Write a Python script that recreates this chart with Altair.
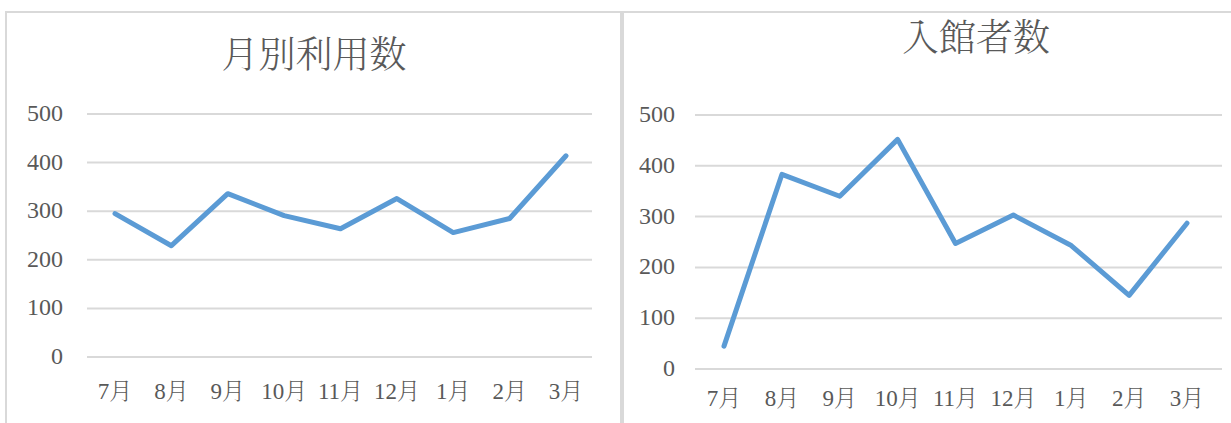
import altair as alt
import pandas as pd

# Months shown on both charts (July to March)
months = ["7月", "8月", "9月", "10月", "11月", "12月", "1月", "2月", "3月"]

# Monthly usage counts
usage = [295, 229, 336, 291, 264, 326, 256, 285, 414]

# Monthly visitor counts
visitors = [45, 383, 340, 452, 247, 303, 243, 145, 287]

# Y-axis tick values
ticks = [0, 100, 200, 300, 400, 500]

titles = ["月別利用数", "入館者数"]

LINE = "#5b9bd5"
GRID = "#d9d9d9"
TEXT = "#595959"
NUM_FONT = "Liberation Serif, Noto Serif CJK JP, Noto Sans CJK JP"
CJK_FONT = "Noto Serif CJK JP, Noto Sans CJK JP"

tick_df = pd.DataFrame({"tick": ticks})
month_df = pd.DataFrame({"month": months})


def panel(values, xrange, yrange, grid_x, label_x, month_y):
    df = pd.DataFrame({"month": months, "value": values})
    xs = alt.Scale(type="point", domain=months, range=xrange, padding=0)
    ys = alt.Scale(domain=[0, 500], range=yrange, nice=False, zero=True)

    grid = alt.Chart(tick_df).mark_rule(color=GRID, strokeWidth=2).encode(
        y=alt.Y("tick:Q", scale=ys, axis=None),
        x=alt.value(grid_x[0]),
        x2=alt.value(grid_x[1]),
    )
    ylabels = alt.Chart(tick_df).mark_text(
        align="right", baseline="middle", font=NUM_FONT, fontSize=24, color=TEXT
    ).encode(
        y=alt.Y("tick:Q", scale=ys, axis=None),
        x=alt.value(label_x),
        text=alt.Text("tick:Q"),
    )
    xlabels = alt.Chart(month_df).mark_text(
        align="center", baseline="middle", font=NUM_FONT, fontSize=23,
        fontWeight=300, color=TEXT
    ).encode(
        x=alt.X("month:O", scale=xs, axis=None),
        y=alt.value(month_y),
        text="month:N",
    )
    line = alt.Chart(df).mark_line(
        color=LINE, strokeWidth=5, strokeJoin="round", strokeCap="round"
    ).encode(
        x=alt.X("month:O", scale=xs, axis=None, sort=months),
        y=alt.Y("value:Q", scale=ys, axis=None),
    )
    return alt.layer(grid, ylabels, xlabels, line)


left = panel(usage, [115, 566], [357, 114], (87, 592), 63, 392)
right = panel(visitors, [724, 1187], [369, 115], (695, 1222), 675, 399)

# Panel frames
frame_df = pd.DataFrame({"id": [0]})
frame_left = alt.Chart(frame_df).mark_rect(
    fillOpacity=0, stroke=GRID, strokeWidth=2
).encode(x=alt.value(6), x2=alt.value(621), y=alt.value(12), y2=alt.value(450))
frame_right = alt.Chart(frame_df).mark_rect(
    fillOpacity=0, stroke=GRID, strokeWidth=2
).encode(x=alt.value(623), x2=alt.value(1260), y=alt.value(12), y2=alt.value(450))

# Chart titles
title_df = pd.DataFrame({"title": titles})
title_left = alt.Chart(title_df.iloc[[0]]).mark_text(
    align="center", baseline="middle", font=CJK_FONT, fontSize=37,
    fontWeight=300, color=TEXT
).encode(text="title:N", x=alt.value(314), y=alt.value(57))
title_right = alt.Chart(title_df.iloc[[1]]).mark_text(
    align="center", baseline="middle", font=CJK_FONT, fontSize=37,
    fontWeight=300, color=TEXT
).encode(text="title:N", x=alt.value(976), y=alt.value(40))

chart = (
    alt.layer(frame_left, frame_right, left, right, title_left, title_right)
    .resolve_scale(x="independent", y="independent")
    .properties(
        width=1231,
        height=423,
        padding=0,
        autosize=alt.AutoSizeParams(type="none"),
        background="white",
    )
    .configure_view(stroke=None)
)

chart.save("out.html", embed_options={"renderer": "svg", "actions": False})
